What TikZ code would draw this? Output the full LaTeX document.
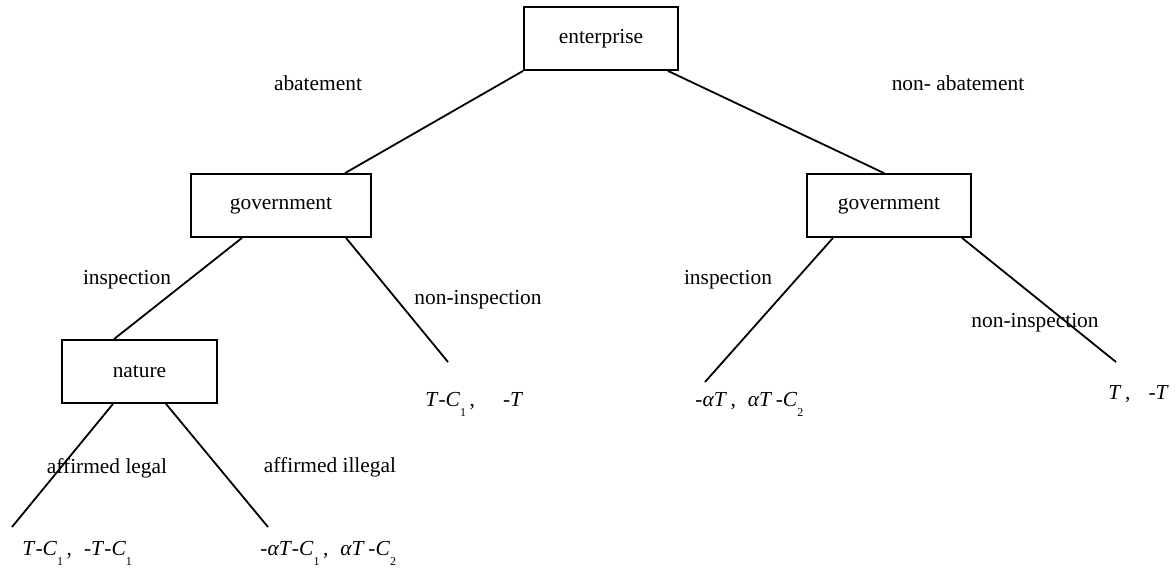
\documentclass[tikz,border=0pt]{standalone}
\usepackage{fontspec}
\setmainfont{Liberation Serif}
\usepackage{tikz}
\usetikzlibrary{positioning}
\tikzstyle{block} = [draw, rectangle, line width=0.9pt, fill=white, minimum height=31.5pt, inner sep=0pt]
\tikzstyle{branch} = [line width=0.9pt]
\tikzstyle{payoff} = [anchor=base west, inner sep=0pt]
\tikzstyle{choice} = [inner sep=0pt]
\newcommand{\low}[1]{\raisebox{-1.1ex}{\fontsize{6}{6}\selectfont #1}}

\begin{document}
\begin{tikzpicture}[x=0.5pt, y=-0.5pt]
    \fontsize{10.7pt}{12pt}\selectfont
    \useasboundingbox (0,0) rectangle (1176,573);

    % Place the blocks
    \node [block, minimum width=77pt] (enterprise) at (601,38.5) {enterprise};
    \node [block, minimum width=90pt] (govL) at (281,205.5) {government};
    \node [block, minimum width=82pt] (govR) at (889,205.5) {government};
    \node [block, minimum width=77.5pt] (nature) at (139.5,371.5) {nature};

    % Ends of the branches
    \coordinate (endNI) at (448,362);
    \coordinate (endRI) at (705,382);
    \coordinate (endRN) at (1116,362);
    \coordinate (endLegal) at (12,527);
    \coordinate (endIllegal) at (268,527);

    % Connect the nodes
    \draw [branch] (enterprise.south west) -- ([xshift=32pt]govL.north);
    \draw [branch] ([xshift=-5.5pt]enterprise.south east) -- ([xshift=-2.5pt]govR.north);
    \draw [branch] ([xshift=-19.5pt]govL.south) -- ([xshift=-12.75pt]nature.north);
    \draw [branch] ([xshift=32.5pt]govL.south) -- (endNI);
    \draw [branch] ([xshift=-28pt]govR.south) -- (endRI);
    \draw [branch] ([xshift=36.5pt]govR.south) -- (endRN);
    \draw [branch] ([xshift=-13.25pt]nature.south) -- (endLegal);
    \draw [branch] ([xshift=13.25pt]nature.south) -- (endIllegal);

    % Labels of the choices
    \node [choice] (abate) at (318,83) {abatement};
    \node [choice] (nonabate) at (958,83) {non- abatement};
    \node [choice] (inspL) at (127,280) {inspection};
    \node [choice] (noninspL) at (478,300) {non-inspection};
    \node [choice] (inspR) at (728,280) {inspection};
    \node [choice] (noninspR) at (1035,323) {non-inspection};
    \node [choice] (legal) at (107,468) {affirmed legal};
    \node [choice] (illegal) at (330,467) {affirmed illegal};

    % Payoffs
    \node [payoff] (payLegal) at (22,555) {\textit{T}-\textit{C}\low{1}\,,\hspace{6pt}-\textit{T}-\textit{C}\low{1}};
    \node [payoff] (payIllegal) at (260,555) {-\textit{αT}-\textit{C}\low{1}\,,\hspace{6pt}\textit{αT}\,-\textit{C}\low{2}};
    \node [payoff] (payNI) at (425,406) {\textit{T}-\textit{C}\low{1}\,,\hspace{14pt}-\textit{T}};
    \node [payoff] (payRI) at (695,406) {-\textit{αT}\,,\hspace{6pt}\textit{αT}\,-\textit{C}\low{2}};
    \node [payoff] (payRN) at (1108,399) {\textit{T}\,,\hspace{9pt}-\textit{T}};
\end{tikzpicture}
\end{document}
